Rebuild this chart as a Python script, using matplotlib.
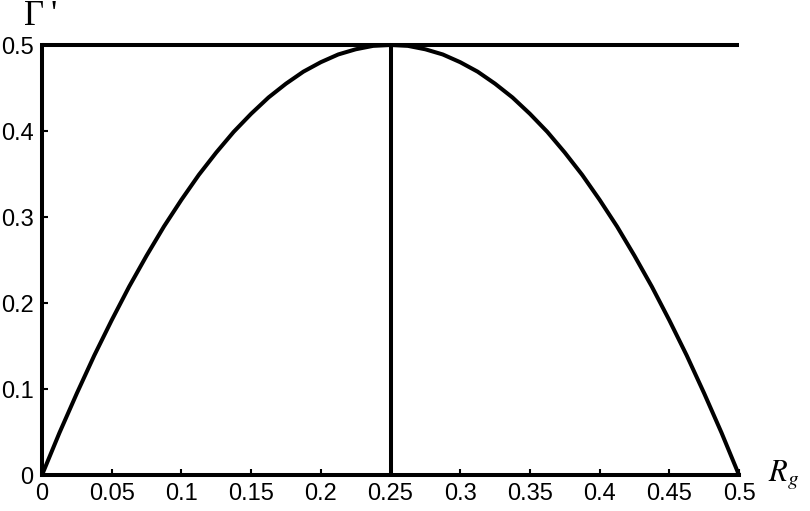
import matplotlib
matplotlib.use("Agg")
import matplotlib.pyplot as plt

# Curve values
rg = [0.0, 0.0125, 0.025, 0.0375, 0.05, 0.0625, 0.075, 0.0875, 0.1, 0.1125,
      0.125, 0.1375, 0.15, 0.1625, 0.175, 0.1875, 0.2, 0.2125, 0.225, 0.2375,
      0.25, 0.2625, 0.275, 0.2875, 0.3, 0.3125, 0.325, 0.3375, 0.35, 0.3625,
      0.375, 0.3875, 0.4, 0.4125, 0.425, 0.4375, 0.45, 0.4625, 0.475, 0.4875, 0.5]
gamma = [0.0, 0.049, 0.095, 0.139, 0.180, 0.219, 0.255, 0.289, 0.320, 0.349,
         0.375, 0.399, 0.420, 0.439, 0.455, 0.469, 0.480, 0.489, 0.495, 0.499,
         0.500, 0.499, 0.495, 0.489, 0.480, 0.469, 0.455, 0.439, 0.420, 0.399,
         0.375, 0.349, 0.320, 0.289, 0.255, 0.219, 0.180, 0.139, 0.095, 0.049, 0.0]

hline_y = 0.5
vline_x = 0.25

xticks = [0, 0.05, 0.1, 0.15, 0.2, 0.25, 0.3, 0.35, 0.4, 0.45, 0.5]
xticklabels = ["0", "0.05", "0.1", "0.15", "0.2", "0.25", "0.3", "0.35", "0.4", "0.45", "0.5"]
yticks = [0, 0.1, 0.2, 0.3, 0.4, 0.5]
yticklabels = ["0", "0.1", "0.2", "0.3", "0.4", "0.5"]

plt.rcParams['mathtext.fontset'] = 'stix'

fig = plt.figure(figsize=(8.1, 5.11), dpi=100)
ax = fig.add_axes([42/810, (511-475)/511, (739-42)/810, (475-45)/511])

lw = 2.9
ax.plot(rg, gamma, color='black', lw=lw, clip_on=False, solid_capstyle='butt')
ax.plot([0, 0.5], [hline_y, hline_y], color='black', lw=lw, clip_on=False, solid_capstyle='butt')
ax.plot([vline_x, vline_x], [0, hline_y], color='black', lw=lw, clip_on=False, solid_capstyle='butt')

ax.set_xlim(0, 0.5)
ax.set_ylim(0, 0.5)
for s in ['top', 'right']:
    ax.spines[s].set_visible(False)
for s in ['left', 'bottom']:
    ax.spines[s].set_linewidth(lw)
    ax.spines[s].set_capstyle('projecting')

ax.set_xticks(xticks)
ax.set_xticklabels(xticklabels)
ax.set_yticks(yticks)
ax.set_yticklabels(yticklabels)
ax.tick_params(direction='in', length=4, width=1.5, labelsize=17, pad=6,
               labelfontfamily='Liberation Sans')

fig.text(24/810, 1 - 25/511, "\u0393", fontsize=25, family='Liberation Serif',
         ha='left', va='baseline')
fig.text(51/810, 1 - 25/511, "'", fontsize=25, family='Liberation Serif',
         ha='left', va='baseline')
fig.text(768/810, 1 - 481/511, r'$R_g$', fontsize=22, ha='left', va='baseline')

fig.savefig('out.png', dpi=100)
